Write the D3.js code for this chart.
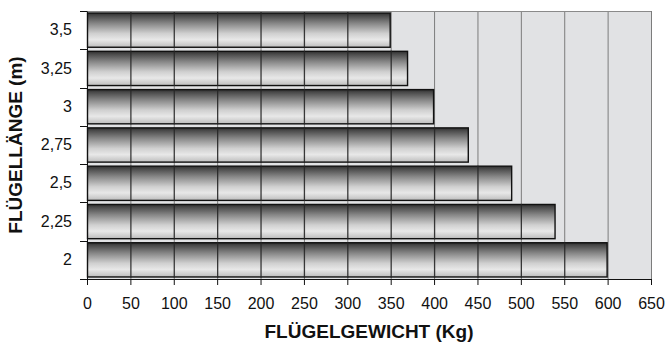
<!DOCTYPE html>
<html><head><meta charset="utf-8">
<script src="https://cdn.jsdelivr.net/npm/d3@7"></script>
<style>body{margin:0;background:#fff}svg{display:block}text{font-family:"Liberation Sans",Arial,sans-serif}</style>
</head><body>
<svg id="c" width="665" height="342"></svg>
<script>
const categories = ["3,5","3,25","3","2,75","2,5","2,25","2"];
const values = [350, 370, 400, 440, 490, 540, 600];
const xTicks = [0,50,100,150,200,250,300,350,400,450,500,550,600,650];
const xTitle = "FLÜGELGEWICHT (Kg)";
const yTitle = "FLÜGELLÄNGE (m)";

const svg = d3.select("#c");
const L = 87, R = 651, T = 11, B = 279;
const x = d3.scaleLinear().domain([0, 650]).range([L, R]);
const y = d3.scaleBand().domain(categories).range([T, B]).paddingInner(0.08).paddingOuter(0.04);

const defs = svg.append("defs");
const g = defs.append("linearGradient").attr("id","bg").attr("x1",0).attr("y1",0).attr("x2",0).attr("y2",1);
[[0,"#2e2e2e"],[0.08,"#4a4a4a"],[0.3,"#868686"],[0.6,"#d0d0d0"],[0.78,"#e8e8e8"],[1,"#bdbdbd"]]
  .forEach(([o,c]) => g.append("stop").attr("offset",o).attr("stop-color",c));

svg.append("rect").attr("x",L).attr("y",T).attr("width",R-L).attr("height",B-T).attr("fill","#e1e2e4");

svg.append("g").selectAll("line").data(xTicks.slice(1)).join("line")
  .attr("x1",d=>x(d)+0.5).attr("x2",d=>x(d)+0.5).attr("y1",T).attr("y2",B)
  .attr("stroke","#7c7c7c").attr("stroke-width",1);
svg.append("line").attr("x1",L).attr("x2",R).attr("y1",T+0.5).attr("y2",T+0.5).attr("stroke","#8a8a8a");

const clip = defs.append("clipPath").attr("id","barclip");
clip.selectAll("rect").data(categories).join("rect")
  .attr("x",x(0)).attr("y",d=>y(d)).attr("width",(d,i)=>x(values[i])-x(0)).attr("height",y.bandwidth());

svg.append("g").selectAll("rect").data(categories).join("rect")
  .attr("x",x(0)+0.5).attr("y",d=>y(d)+0.5)
  .attr("width",(d,i)=>x(values[i])-x(0)-1).attr("height",y.bandwidth()-1)
  .attr("fill","url(#bg)").attr("stroke","#111").attr("stroke-width",1.4);

svg.append("g").attr("clip-path","url(#barclip)").selectAll("line").data(xTicks.slice(1)).join("line")
  .attr("x1",d=>x(d)+0.5).attr("x2",d=>x(d)+0.5).attr("y1",T).attr("y2",B)
  .attr("stroke","#262626").attr("stroke-opacity",0.9).attr("stroke-width",1.3);

const xAxis = d3.axisBottom(x).tickValues(xTicks).tickSize(6).tickPadding(13).tickFormat(d=>d);
const xg = svg.append("g").attr("transform",`translate(0,${B})`).call(xAxis);
xg.select(".domain").attr("stroke","#111");
xg.selectAll(".tick line").attr("stroke","#111");
xg.selectAll("text").style("font-size","16px").attr("fill","#111");

const yAxis = d3.axisLeft(y).tickSize(0).tickPadding(15);
const yg = svg.append("g").attr("transform",`translate(${L},0)`).call(yAxis);
yg.select(".domain").attr("stroke","#111");
yg.selectAll("text").style("font-size","16px").attr("fill","#111");

const bounds = d3.range(categories.length+1).map(i => T + i*(B-T)/categories.length);
svg.append("g").selectAll("line").data(bounds).join("line")
  .attr("x1",L-7).attr("x2",L).attr("y1",d=>Math.round(d)+0.5).attr("y2",d=>Math.round(d)+0.5)
  .attr("stroke","#111");

svg.append("text").attr("x",(L+R)/2).attr("y",338).attr("text-anchor","middle")
  .style("font-size","19px").attr("font-weight","bold").attr("fill","#111").text(xTitle);
svg.append("text").attr("transform",`translate(22,${(T+B)/2}) rotate(-90)`).attr("text-anchor","middle")
  .style("font-size","19px").attr("font-weight","bold").attr("fill","#111").text(yTitle);
</script>
</body></html>
